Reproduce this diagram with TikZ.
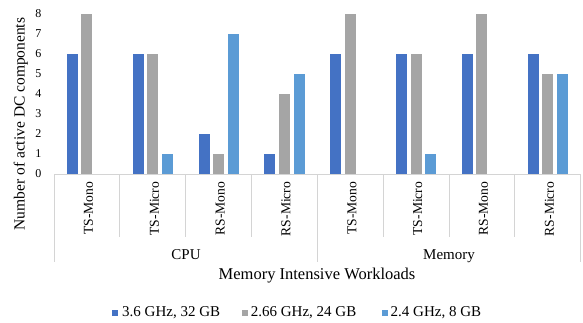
\documentclass[tikz,border=0pt]{standalone}
\usepackage{fontspec}
\setmainfont{Liberation Serif}
\definecolor{cA}{HTML}{4472C4}
\definecolor{cB}{HTML}{A5A5A5}
\definecolor{cC}{HTML}{5B9BD5}
\definecolor{axisgray}{HTML}{D4D4D4}
\begin{document}
\begin{tikzpicture}[x=1pt,y=-1pt,
  divider/.style={draw=axisgray,line width=0.9pt},
  ticklab/.style={inner sep=0pt,font=\fontsize{12}{14}\selectfont},
  catlab/.style={inner sep=0pt,rotate=90,anchor=base east,font=\fontsize{13.6}{16}\selectfont},
  grouplab/.style={inner sep=0pt,anchor=base,font=\fontsize{15}{18}\selectfont},
  titlelab/.style={inner sep=0pt,font=\fontsize{16.5}{19}\selectfont},
  leglab/.style={inner sep=0pt,anchor=base west,font=\fontsize{15}{18}\selectfont}]
\useasboundingbox (0,0) rectangle (583,322);
% bars and category labels
\foreach \a/\b/\c/\lab [count=\i from 0] in {6/8/0/TS-Mono,6/6/1/TS-Micro,2/1/7/RS-Mono,1/4/5/RS-Micro,6/8/0/TS-Mono,6/6/1/TS-Micro,6/8/0/RS-Mono,6/5/5/RS-Micro}{
  \pgfmathsetmacro\cx{54+65.84*\i+32.92}
  \fill[cA] (\cx-20.1,174) rectangle (\cx-9.1,174-20*\a);
  \fill[cB] (\cx-5.5,174) rectangle (\cx+5.5,174-20*\b);
  \fill[cC] (\cx+9.1,174) rectangle (\cx+20.1,174-20*\c);
  \node[catlab] (cat\i) at (\cx+6,181.5) {\lab};
}
% axis and dividers
\coordinate (axL) at (54,174);
\coordinate (axR) at (580.7,174);
\draw[divider] (axL) -- (axR);
\foreach \i in {1,2,3,5,6,7}{
  \draw[divider] (54+65.84*\i,174) -- (54+65.84*\i,237);
}
\foreach \i in {0,4,8}{
  \draw[divider] (54+65.84*\i,174) -- (54+65.84*\i,262);
}
% tick labels
\foreach \t in {0,...,8}{
  \node[ticklab,anchor=east] (t\t) at (41.5,174-20*\t) {\t};
}
% group labels
\node[grouplab] (cpu) at (186,259.2) {CPU};
\node[grouplab] (mem) at (449,259.2) {Memory};
% axis titles
\node[titlelab,anchor=base] (xtitle) at (317,279.3) {Memory Intensive Workloads};
\node[titlelab,font=\fontsize{15.5}{18}\selectfont,rotate=90,anchor=base] (ytitle) at (24.5,124) {Number of active DC components};
% legend
\fill[cA] (112.3,309.5) rectangle (118.3,315.5);
\node[leglab] (leg1) at (122,316.8) {3.6 GHz, 32 GB};
\fill[cB] (241.7,309.5) rectangle (247.7,315.5);
\node[leglab] (leg2) at (250.7,316.8) {2.66 GHz, 24 GB};
\fill[cC] (381.7,309.5) rectangle (387.7,315.5);
\node[leglab] (leg3) at (390.5,316.8) {2.4 GHz, 8 GB};
\end{tikzpicture}
\end{document}
